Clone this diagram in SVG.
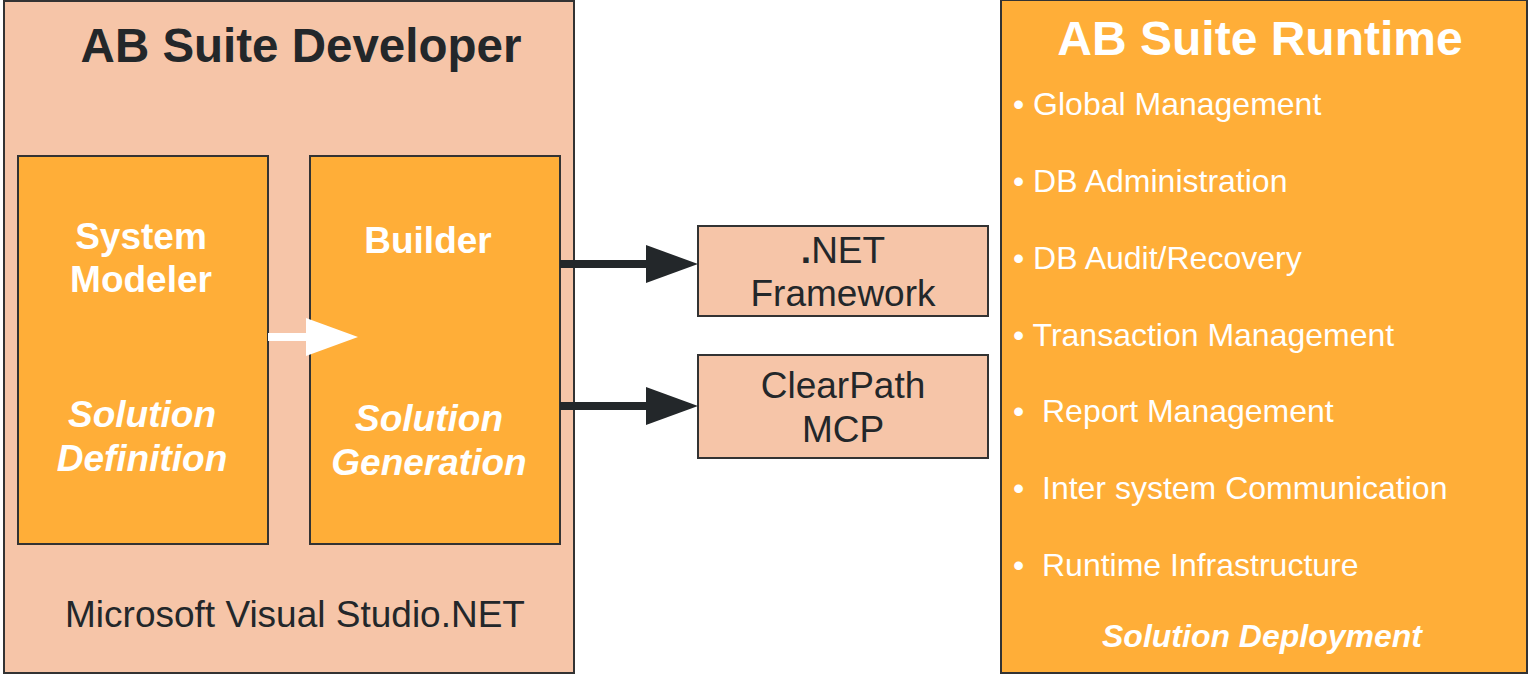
<svg xmlns="http://www.w3.org/2000/svg" width="1528" height="675" viewBox="0 0 1528 675">
<style>
.peach{fill:#F6C5A8;stroke:#333;stroke-width:2}
.orange{fill:#FFAE38;stroke:#333;stroke-width:2}
text{font-family:"Liberation Sans",Arial,sans-serif}
.dk{fill:#23272A}
.wh{fill:#FFFFFF}
.b{font-weight:bold}
.i{font-style:italic;font-weight:bold}
.m{font-size:37px}
.list{font-size:32px;fill:#fff}
</style>
<defs>
<marker id="ah" markerWidth="52" markerHeight="38" refX="0" refY="19" markerUnits="userSpaceOnUse" orient="auto">
<path d="M0,0 L52,19 L0,38 Z" fill="#23272A"/>
</marker>
<marker id="wh" markerWidth="52" markerHeight="38" refX="0" refY="19" markerUnits="userSpaceOnUse" orient="auto">
<path d="M0,0 L52,19 L0,38 Z" fill="#FFFFFF"/>
</marker>
</defs>
<g id="developer">
<rect class="peach" x="4" y="1" width="570" height="672"/>
<text class="dk b" x="301" y="62" font-size="47.5" text-anchor="middle">AB Suite Developer</text>
<text class="dk m" x="295" y="627" text-anchor="middle">Microsoft Visual Studio.NET</text>
</g>
<g id="system-modeler">
<rect class="orange" x="18" y="156" width="250" height="388"/>
<text class="wh b m" x="141" y="249" text-anchor="middle">System</text>
<text class="wh b m" x="141" y="292" text-anchor="middle">Modeler</text>
<text class="wh i m" x="142" y="427" text-anchor="middle">Solution</text>
<text class="wh i m" x="142" y="471" text-anchor="middle">Definition</text>
</g>
<g id="builder">
<rect class="orange" x="310" y="156" width="250" height="388"/>
<text class="wh b m" x="428" y="253" text-anchor="middle">Builder</text>
<text class="wh i m" x="429" y="431" text-anchor="middle">Solution</text>
<text class="wh i m" x="429" y="475" text-anchor="middle">Generation</text>
</g>
<g id="dotnet">
<rect class="peach" x="698" y="226" width="290" height="90"/>
<text class="dk m" x="843" y="263" text-anchor="middle"><tspan font-weight="bold">.</tspan>NET</text>
<text class="dk m" x="843" y="306" text-anchor="middle">Framework</text>
</g>
<g id="clearpath">
<rect class="peach" x="698" y="355" width="290" height="103"/>
<text class="dk m" x="843" y="398" text-anchor="middle">ClearPath</text>
<text class="dk m" x="843" y="442" text-anchor="middle">MCP</text>
</g>
<g id="runtime">
<rect class="orange" x="1001" y="0" width="526" height="673"/>
<text class="wh b" x="1260" y="55" font-size="48" text-anchor="middle">AB Suite Runtime</text>
<text class="list" x="1013" y="115">• Global Management</text>
<text class="list" x="1013" y="192">• DB Administration</text>
<text class="list" x="1013" y="269">• DB Audit/Recovery</text>
<text class="list" x="1013" y="346">• Transaction Management</text>
<text class="list" x="1013" y="422" xml:space="preserve">•  Report Management</text>
<text class="list" x="1013" y="499" xml:space="preserve">•  Inter system Communication</text>
<text class="list" x="1013" y="576" xml:space="preserve">•  Runtime Infrastructure</text>
<text class="wh i" x="1262" y="647" font-size="32" text-anchor="middle">Solution Deployment</text>
</g>
<g id="connectors">
<line x1="268" y1="337" x2="306" y2="337" stroke="#FFFFFF" stroke-width="8" marker-end="url(#wh)"/>
<line x1="560" y1="264" x2="646" y2="264" stroke="#23272A" stroke-width="8" marker-end="url(#ah)"/>
<line x1="560" y1="406" x2="646" y2="406" stroke="#23272A" stroke-width="8" marker-end="url(#ah)"/>
</g>
</svg>
